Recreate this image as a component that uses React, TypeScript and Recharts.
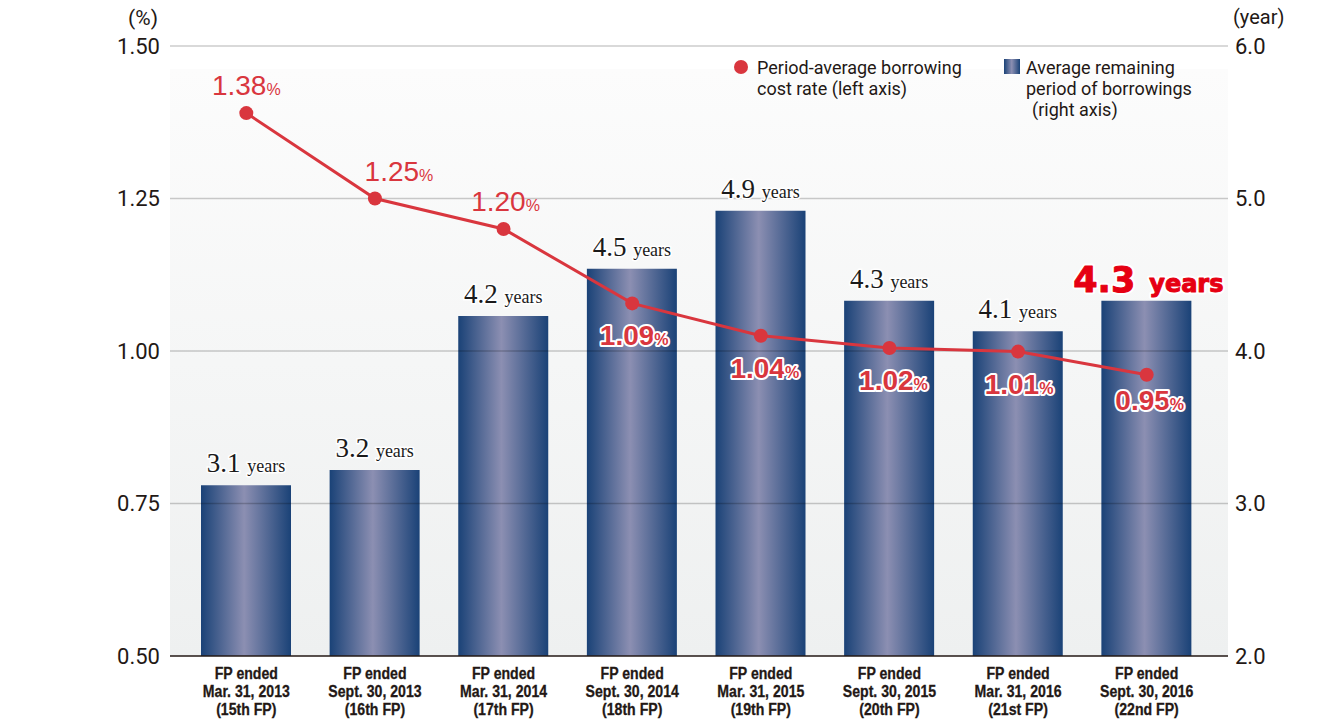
import React from "react";
import {
  ComposedChart,
  Bar,
  Line,
  XAxis,
  YAxis,
  CartesianGrid,
  ReferenceLine,
  LabelList,
} from "recharts";

// ---- data ----
const periodDates = [
  "Mar. 31, 2013",
  "Sept. 30, 2013",
  "Mar. 31, 2014",
  "Sept. 30, 2014",
  "Mar. 31, 2015",
  "Sept. 30, 2015",
  "Mar. 31, 2016",
  "Sept. 30, 2016",
];
const fiscalPeriods = ["15th FP", "16th FP", "17th FP", "18th FP", "19th FP", "20th FP", "21st FP", "22nd FP"];
const remainingYears = [3.12, 3.22, 4.23, 4.54, 4.92, 4.33, 4.13, 4.33];
const yearLabels = ["3.1", "3.2", "4.2", "4.5", "4.9", "4.3", "4.1", "4.3"];
const costRate = [1.39, 1.25, 1.2, 1.078, 1.025, 1.005, 0.999, 0.961];
const rateLabels = ["1.38", "1.25", "1.20", "1.09", "1.04", "1.02", "1.01", "0.95"];
const leftTicks = [0.5, 0.75, 1.0, 1.25, 1.5];
const rightTicks = [2, 3, 4, 5, 6];
const gridLevels = [0.75, 1.0, 1.25, 1.5];

const data = periodDates.map((d, i) => ({
  period: d,
  fp: fiscalPeriods[i],
  years: remainingYears[i],
  rate: costRate[i],
}));

const RED = "#d9363e";
const SANS = "Roboto, 'Liberation Sans', Arial, sans-serif";

const XTick = (props: any) => {
  const { x, y, payload } = props;
  const i = payload.index;
  return (
    <g transform={`translate(${x},${y}) scale(0.83,1)`}>
      <text textAnchor="middle" fontFamily="'Liberation Sans', Arial, sans-serif" fontWeight="bold" fontSize={17} fill="#231815" stroke="#231815" strokeWidth={0.3}>
        <tspan x={0} y={21}>FP ended</tspan>
        <tspan x={0} y={39.5}>{periodDates[i]}</tspan>
        <tspan x={0} y={57.5}>({fiscalPeriods[i]})</tspan>
      </text>
    </g>
  );
};

const BarLabel = (props: any) => {
  const { x, y, width, index } = props;
  const cx = x + width / 2;
  if (index === remainingYears.length - 1) {
    const common = {
      x: cx + 2,
      y: y - 9,
      textAnchor: "middle" as const,
      fontFamily: "'DejaVu Sans', 'Liberation Sans', sans-serif",
      fontWeight: "bold",
      strokeLinejoin: "round" as const,
    };
    return (
      <g>
        <text {...common} fill="#ffffff" stroke="#ffffff" strokeWidth={5}>
          <tspan fontSize={35}>{yearLabels[index]}</tspan>
          <tspan fontSize={24} dx={14}>years</tspan>
        </text>
        <text {...common} fill="#e60012" stroke="#e60012" strokeWidth={1}>
          <tspan fontSize={35}>{yearLabels[index]}</tspan>
          <tspan fontSize={24} dx={14}>years</tspan>
        </text>
      </g>
    );
  }
  return (
    <text
      x={cx}
      y={y - 13}
      textAnchor="middle"
      fontFamily="'Liberation Serif', 'Times New Roman', serif"
      fill="#1a1a1a"
      stroke="#ffffff"
      strokeWidth={3}
      paintOrder="stroke"
    >
      <tspan fontSize={27}>{yearLabels[index] + " "}</tspan>
      <tspan fontSize={18}>years</tspan>
    </text>
  );
};

const rateShift = [0, 24, 2, 2, 4, 4, 1, 3];

const RateLabel = (props: any) => {
  const { x, y, index } = props;
  const above = index < 3;
  if (above) {
    return (
      <text
        x={x + rateShift[index]}
        y={y - 18}
        textAnchor="middle"
        fontFamily="'Liberation Sans', Arial, sans-serif"
        fill={RED}
      >
        <tspan fontSize={28}>{rateLabels[index]}</tspan>
        <tspan fontSize={16}>%</tspan>
      </text>
    );
  }
  const dy = index === rateLabels.length - 1 ? 35 : 42;
  return (
    <text
      x={x + rateShift[index]}
      y={y + dy}
      textAnchor="middle"
      fontFamily="'Liberation Sans', Arial, sans-serif"
      fontWeight="bold"
      fill={RED}
      stroke="#ffffff"
      strokeWidth={4}
      paintOrder="stroke"
      strokeLinejoin="round"
    >
      <tspan fontSize={28}>{rateLabels[index]}</tspan>
      <tspan fontSize={16}>%</tspan>
    </text>
  );
};

export default function App() {
  return (
    <div style={{ position: "absolute", left: 0, top: 0, width: 1324, height: 719, background: "#ffffff" }}>
      <svg width={0} height={0} style={{ position: "absolute" }}>
        <defs>
          <linearGradient id="barGrad" x1="0" y1="0" x2="1" y2="0">
            <stop offset="0%" stopColor="#1a4277" />
            <stop offset="48%" stopColor="#8c8fb2" />
            <stop offset="100%" stopColor="#1a4277" />
          </linearGradient>
          <linearGradient id="bgGrad" x1="0" y1="0" x2="0" y2="1">
            <stop offset="0%" stopColor="#ffffff" />
            <stop offset="3.7%" stopColor="#ffffff" />
            <stop offset="3.8%" stopColor="#fcfcfc" />
            <stop offset="100%" stopColor="#eef0f0" />
          </linearGradient>
        </defs>
      </svg>
      <ComposedChart
        width={1324}
        height={719}
        data={data}
        margin={{ top: 46, right: 36, bottom: 0, left: 110 }}
      >
        <CartesianGrid yAxisId="left" vertical={false} horizontal={false} fill="url(#bgGrad)" />
        <XAxis
          dataKey="period"
          interval={0}
          tickLine={false}
          tickSize={0}
          axisLine={{ stroke: "#231815", strokeWidth: 1.5 }}
          padding={{ left: 12, right: 17 }}
          height={63}
          tick={<XTick />}
        />
        <YAxis
          yAxisId="left"
          domain={[0.5, 1.5]}
          ticks={leftTicks}
          tickFormatter={(v: number) => v.toFixed(2)}
          axisLine={false}
          tickLine={false}
          tickSize={0}
          tickMargin={10}
          width={60}
          tick={{ fontSize: 22, fill: "#231815", fontFamily: SANS }}
        />
        <YAxis
          yAxisId="right"
          orientation="right"
          domain={[2, 6]}
          ticks={rightTicks}
          tickFormatter={(v: number) => v.toFixed(1)}
          axisLine={false}
          tickLine={false}
          tickSize={0}
          tickMargin={7}
          width={60}
          tick={{ fontSize: 22, fill: "#231815", fontFamily: SANS, textAnchor: "start" }}
        />
        <Bar yAxisId="right" dataKey="years" barSize={90} fill="url(#barGrad)" isAnimationActive={false}>
          <LabelList dataKey="years" content={<BarLabel />} />
        </Bar>
        {gridLevels.map((g) => (
          <ReferenceLine key={g} yAxisId="left" y={g} stroke="#000000" strokeOpacity={0.2} strokeWidth={1.5} />
        ))}
        <Line
          yAxisId="left"
          type="linear"
          dataKey="rate"
          stroke={RED}
          strokeWidth={3}
          dot={{ r: 7, fill: RED, stroke: RED, strokeWidth: 0 }}
          isAnimationActive={false}
        >
          <LabelList dataKey="rate" content={<RateLabel />} />
        </Line>
      </ComposedChart>
      <svg
        width={1324}
        height={719}
        style={{ position: "absolute", left: 0, top: 0, pointerEvents: "none" }}
      >
        <text x={158} y={25} textAnchor="end" fontFamily={SANS} fontSize={21} fill="#231815">(%)</text>
        <text x={1233} y={24} fontFamily={SANS} fontSize={20} fill="#231815">(year)</text>
        <circle cx={741} cy={67} r={7} fill={RED} />
        <text fontFamily={SANS} fontSize={18} fill="#231815">
          <tspan x={757} y={74}>Period-average borrowing</tspan>
          <tspan x={757} y={95}>cost rate (left axis)</tspan>
        </text>
        <rect x={1004} y={59} width={16} height={15} fill="url(#barGrad)" />
        <text fontFamily={SANS} fontSize={18} fill="#231815">
          <tspan x={1026} y={74}>Average remaining</tspan>
          <tspan x={1026} y={95}>period of borrowings</tspan>
          <tspan x={1032} y={116}>(right axis)</tspan>
        </text>
      </svg>
    </div>
  );
}
